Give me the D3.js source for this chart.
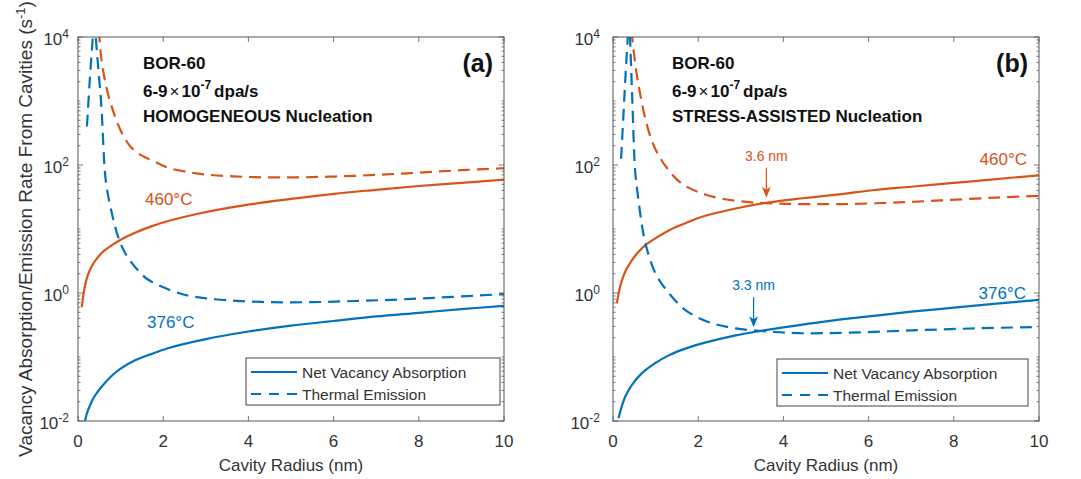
<!DOCTYPE html>
<html><head><meta charset="utf-8">
<script src="https://cdn.jsdelivr.net/npm/d3@7"></script>
<style>
body{margin:0;background:#fff}
text{font-family:Arial,"Liberation Sans",Helvetica,sans-serif}
</style>
</head><body>
<svg id="chart" width="1081" height="479"></svg>
<script>
// ---------- data ----------
const xTicks = [0, 2, 4, 6, 8, 10];
const yTickExponents = [-2, 0, 2, 4];
const radiusDomain = [0, 10];
const rateDomain = [1e-2, 1e4];
const legendLabels = ["Net Vacancy Absorption", "Thermal Emission"];
const tempLabels = ["460°C", "376°C"];

// Panel (a): homogeneous nucleation  [radius nm, rate s^-1]
const a460Absorption = [[0.09,0.60],[0.12,0.89],[0.17,1.35],[0.23,1.9],[0.32,2.6],[0.45,3.5],[0.6,4.5],[0.8,5.6],[1.0,6.8],[1.3,8.5],[1.72,11],[2.2,13.8],[2.9,17.8],[4.0,24],[5.0,29.5],[6.0,35.5],[7.0,41],[8.0,47],[9.0,52.5],[10,59]];
const a460Emission = [[0.45,25000],[0.5,10000],[0.56,4000],[0.68,1500],[0.84,650],[1.03,316],[1.23,195],[1.46,145],[1.81,112],[2.13,90],[2.52,79],[3.0,71],[4.0,65],[5.0,64],[6.0,66],[7.0,70],[8.0,76],[9.0,83],[10,89]];
const a376Absorption = [[0.15,0.0089],[0.2,0.0125],[0.3,0.0188],[0.4,0.025],[0.55,0.034],[0.78,0.05],[1.0,0.066],[1.33,0.088],[1.7,0.11],[2.11,0.137],[3.0,0.19],[4.0,0.25],[5.0,0.31],[6.0,0.365],[7.0,0.43],[8.0,0.49],[9.0,0.56],[10,0.63]];
const a376Emission = [[0.21,400],[0.27,1800],[0.33,7000],[0.37,15000],[0.39,30000],[0.41,12000],[0.48,3000],[0.55,800],[0.63,80],[0.68,42],[0.8,17],[0.94,7.6],[1.1,4.3],[1.33,2.6],[1.6,1.7],[1.96,1.26],[2.4,0.98],[2.74,0.87],[3.5,0.77],[4.46,0.72],[5.5,0.72],[6.5,0.75],[7.5,0.79],[8.5,0.85],[10,0.96]];

// Panel (b): stress-assisted nucleation
const b460Absorption = [[0.09,0.69],[0.15,1.12],[0.21,1.58],[0.3,2.24],[0.45,3.3],[0.6,4.4],[0.76,5.6],[1.0,7.2],[1.31,9.5],[1.7,12.3],[2.09,15.5],[2.88,20.9],[3.6,25.7],[4.45,30.2],[5.3,34.7],[6.13,40.7],[7.0,45.7],[8.0,52.5],[9.0,60.3],[10,69]];
const b460Emission = [[0.4,25000],[0.45,10000],[0.55,2800],[0.64,1260],[0.75,560],[0.9,250],[1.05,150],[1.25,93],[1.6,52],[2.2,34],[3.0,27],[3.8,25],[4.5,24.5],[5.35,24.5],[6.5,25.7],[7.7,28],[9.0,31],[10,33]];
const b376Absorption = [[0.13,0.011],[0.2,0.0165],[0.3,0.025],[0.45,0.037],[0.68,0.056],[1.0,0.081],[1.31,0.106],[1.7,0.135],[2.09,0.163],[2.88,0.218],[3.43,0.253],[4.0,0.29],[5.0,0.36],[6.0,0.43],[7.0,0.51],[8.0,0.59],[9.0,0.68],[10,0.78]];
const b376Emission = [[0.19,125],[0.25,700],[0.3,3000],[0.35,11000],[0.37,25000],[0.39,14000],[0.45,1200],[0.52,80],[0.58,35],[0.66,14],[0.76,6],[1.0,2.0],[1.31,1.0],[1.7,0.54],[2.25,0.35],[2.88,0.28],[3.66,0.25],[4.45,0.235],[5.5,0.24],[7.0,0.26],[8.5,0.28],[10,0.295]];

const crossingLabels = ["3.6 nm", "3.3 nm"];
const crossingRadii = [3.6, 3.3];

// ---------- styles ----------
const ORANGE = "#D95319", BLUE = "#0072BD", AXIS = "#555", TXT = "#333";

const svg = d3.select("#chart");

function drawPanel(cfg) {
  const x = d3.scaleLinear().domain(radiusDomain).range([cfg.left, cfg.right]);
  const y = d3.scaleLog().domain(rateDomain).range([cfg.bottom, cfg.top]);
  const g = svg.append("g");
  const clipId = "clip-" + cfg.id;
  svg.append("defs").append("clipPath").attr("id", clipId)
    .append("rect").attr("x", cfg.left).attr("y", cfg.top)
    .attr("width", cfg.right - cfg.left).attr("height", cfg.bottom - cfg.top);

  // minor ticks (log)
  const minor = [];
  for (let e = -2; e < 4; e++) for (let k = 2; k <= 9; k++) minor.push(k * Math.pow(10, e));
  for (let e = -1; e < 4; e += 2) minor.push(Math.pow(10, e));
  const tickG = g.append("g").attr("stroke", AXIS).attr("stroke-width", 0.8);
  minor.forEach(v => {
    const yy = y(v);
    tickG.append("line").attr("x1", cfg.left).attr("x2", cfg.left + 2.5).attr("y1", yy).attr("y2", yy);
    tickG.append("line").attr("x1", cfg.right).attr("x2", cfg.right - 2.5).attr("y1", yy).attr("y2", yy);
  });
  yTickExponents.forEach(e => {
    const yy = y(Math.pow(10, e));
    tickG.append("line").attr("x1", cfg.left).attr("x2", cfg.left + 5).attr("y1", yy).attr("y2", yy);
    tickG.append("line").attr("x1", cfg.right).attr("x2", cfg.right - 5).attr("y1", yy).attr("y2", yy);
  });
  xTicks.forEach(t => {
    const xx = x(t);
    tickG.append("line").attr("x1", xx).attr("x2", xx).attr("y1", cfg.bottom).attr("y2", cfg.bottom - 5);
    tickG.append("line").attr("x1", xx).attr("x2", xx).attr("y1", cfg.top).attr("y2", cfg.top + 5);
  });

  // tick labels
  xTicks.forEach(t => {
    g.append("text").attr("x", x(t)).attr("y", cfg.bottom + 26)
      .attr("text-anchor", "middle").attr("font-size", 17).attr("fill", TXT).text(t);
  });
  yTickExponents.forEach(e => {
    const t = g.append("text").attr("x", cfg.left - cfg.ylabGap).attr("y", y(Math.pow(10, e)) + 8)
      .attr("text-anchor", "end").attr("font-size", 17).attr("fill", TXT);
    t.append("tspan").text("10");
    t.append("tspan").attr("dy", -7).attr("font-size", 12).text(e);
  });

  // curves
  const line = d3.line().x(d => x(d[0])).y(d => y(d[1])).curve(d3.curveCatmullRom.alpha(0.5));
  const cg = g.append("g").attr("clip-path", `url(#${clipId})`).attr("fill", "none").attr("stroke-width", 2.2);
  cfg.series.forEach(s => {
    cg.append("path").attr("d", line(s.data)).attr("stroke", s.color)
      .attr("stroke-dasharray", s.dashed ? "12,7" : null);
  });

  // box
  g.append("rect").attr("x", cfg.left).attr("y", cfg.top)
    .attr("width", cfg.right - cfg.left).attr("height", cfg.bottom - cfg.top)
    .attr("fill", "none").attr("stroke", AXIS).attr("stroke-width", 1);

  // x label
  g.append("text").attr("x", (cfg.left + cfg.right) / 2).attr("y", 471)
    .attr("text-anchor", "middle").attr("font-size", 17).attr("fill", TXT).text("Cavity Radius (nm)");

  // title block
  const tb = g.append("g").attr("fill", "#111").attr("font-weight", "bold").attr("font-size", 17);
  tb.append("text").attr("x", cfg.textX).attr("y", 69).text("BOR-60");
  const l2 = tb.append("text").attr("x", cfg.textX).attr("y", 97);
  l2.append("tspan").text("6-9");
  l2.append("tspan").attr("dx", 2).attr("font-weight", "normal").text("\u00d7");
  l2.append("tspan").attr("dx", 2).text("10");
  l2.append("tspan").attr("dy", -8).attr("font-size", 12).text("-7");
  l2.append("tspan").attr("dy", 8).attr("dx", 3).text("dpa/s");
  tb.append("text").attr("x", cfg.textX).attr("y", 122).text(cfg.nucleation);
  g.append("text").attr("x", cfg.right - 11).attr("y", 72).attr("text-anchor", "end")
    .attr("font-size", 25).attr("font-weight", "bold").attr("fill", "#111").text(cfg.tag);

  // temperature labels
  cfg.tempPos.forEach((p, i) => {
    g.append("text").attr("x", p[0]).attr("y", p[1]).attr("text-anchor", p[2])
      .attr("font-size", 17).attr("fill", i === 0 ? ORANGE : BLUE).text(tempLabels[i]);
  });

  // legend
  const L = cfg.legend;
  const lg = g.append("g");
  lg.append("rect").attr("x", L.x).attr("y", L.y).attr("width", L.w).attr("height", L.h)
    .attr("fill", "#fff").attr("stroke", "#444").attr("stroke-width", 1);
  legendLabels.forEach((lab, i) => {
    const yy = L.y + 14 + i * 22;
    lg.append("line").attr("x1", L.x + 5).attr("x2", L.x + 51).attr("y1", yy).attr("y2", yy)
      .attr("stroke", BLUE).attr("stroke-width", 2.2).attr("stroke-dasharray", i ? "10,8" : null);
    lg.append("text").attr("x", L.x + 56).attr("y", yy + 5.5).attr("font-size", 15.5)
      .attr("fill", TXT).text(lab);
  });

  return {x, y};
}

const panelA = drawPanel({
  id: "a", left: 78, right: 504, top: 37, bottom: 421, ylabGap: 9,
  textX: 143, nucleation: "HOMOGENEOUS Nucleation", tag: "(a)",
  tempPos: [[145, 205, "start"], [147, 328, "start"]],
  legend: {x: 246, y: 358, w: 254, h: 47},
  series: [
    {data: a460Absorption, color: ORANGE, dashed: false},
    {data: a460Emission, color: ORANGE, dashed: true},
    {data: a376Absorption, color: BLUE, dashed: false},
    {data: a376Emission, color: BLUE, dashed: true}
  ]
});

const panelB = drawPanel({
  id: "b", left: 613, right: 1039, top: 37, bottom: 421, ylabGap: 13,
  textX: 672, nucleation: "STRESS-ASSISTED Nucleation", tag: "(b)",
  tempPos: [[1027, 165, "end"], [1026, 299, "end"]],
  legend: {x: 777, y: 359, w: 251, h: 47},
  series: [
    {data: b460Absorption, color: ORANGE, dashed: false},
    {data: b460Emission, color: ORANGE, dashed: true},
    {data: b376Absorption, color: BLUE, dashed: false},
    {data: b376Emission, color: BLUE, dashed: true}
  ]
});

// crossing annotations in (b)
const annColors = [ORANGE, BLUE];
const annSeries = [b460Absorption, b376Absorption];
annSeries.forEach((ser, i) => {
  const r = crossingRadii[i];
  const k = ser.findIndex(d => d[0] >= r);
  const p0 = ser[k - 1], p1 = ser[k];
  const f = (r - p0[0]) / (p1[0] - p0[0]);
  const v = Math.pow(10, Math.log10(p0[1]) + f * (Math.log10(p1[1]) - Math.log10(p0[1])));
  const xx = panelB.x(r), tipY = panelB.y(v) - 5;
  const topY = tipY - 30;
  const c = annColors[i];
  svg.append("text").attr("x", xx).attr("y", topY - 7).attr("text-anchor", "middle")
    .attr("font-size", 14).attr("fill", c).text(crossingLabels[i]);
  svg.append("line").attr("x1", xx).attr("x2", xx).attr("y1", topY).attr("y2", tipY - 6)
    .attr("stroke", c).attr("stroke-width", 1.2);
  svg.append("path")
    .attr("d", `M${xx},${tipY} L${xx - 4.5},${tipY - 11} L${xx},${tipY - 8} L${xx + 4.5},${tipY - 11} Z`)
    .attr("fill", c);
});

// y axis title (panel a)
const yt = svg.append("text").attr("transform", "translate(32,229) rotate(-90)")
  .attr("text-anchor", "middle").attr("font-size", 19).attr("fill", TXT);
yt.append("tspan").text("Vacancy Absorption/Emission Rate From Cavities (s");
yt.append("tspan").attr("dy", -7).attr("font-size", 13).text("-1");
yt.append("tspan").attr("dy", 7).text(")");
</script>
</body></html>
